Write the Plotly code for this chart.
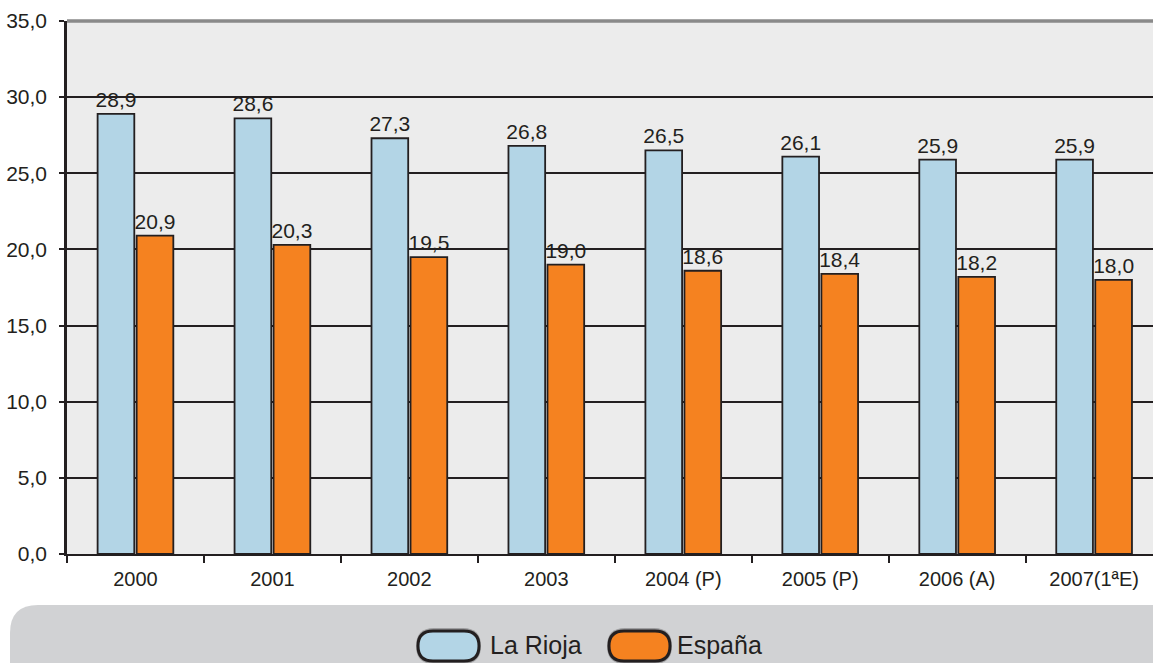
import plotly.graph_objects as go

categories = ["2000", "2001", "2002", "2003", "2004 (P)", "2005 (P)", "2006 (A)", "2007(1ªE)"]
series_names = ["La Rioja", "España"]
la_rioja = [28.9, 28.6, 27.3, 26.8, 26.5, 26.1, 25.9, 25.9]
espana = [20.9, 20.3, 19.5, 19.0, 18.6, 18.4, 18.2, 18.0]
y_ticks = [0, 5, 10, 15, 20, 25, 30, 35]

colors = ["#b3d5e6", "#f58220"]
FONT = "Liberation Sans, Arial, Helvetica, sans-serif"
W, H = 1153, 663
ML, MR, MT, MB = 67, 0, 21, 109
PW, PH = W - ML - MR, H - MT - MB

fig = go.Figure()
for name, vals, col in zip(series_names, [la_rioja, espana], colors):
    fig.add_trace(go.Bar(
        x=categories, y=vals, name=name,
        marker=dict(color=col, line=dict(color="#231f20", width=1.8)),
        text=vals, texttemplate="%{y:.1f}", textposition="outside",
        constraintext="none",
        textfont=dict(family=FONT, size=21, color="#231f20"),
        cliponaxis=False, showlegend=False,
    ))

fig.update_layout(
    width=W, height=H,
    margin=dict(l=ML, r=MR, t=MT, b=MB, pad=0),
    paper_bgcolor="white", plot_bgcolor="#ececec",
    separators=",.",
    barmode="group", bargap=0.43, bargroupgap=0.06,
    font=dict(family=FONT, size=21, color="#231f20"),
    uniformtext=dict(mode=False),
)
fig.update_xaxes(
    range=[-0.5, 7.43], showgrid=False,
    showline=True, linecolor="#231f20", linewidth=2,
    ticks="outside", tickson="boundaries", ticklen=7, tickwidth=2, tickcolor="#231f20",
    ticklabelstandoff=6,
    tickfont=dict(family=FONT, size=20, color="#231f20"),
)
fig.update_yaxes(
    range=[0, 35], tickvals=y_ticks, tickformat=".1f",
    showgrid=True, gridcolor="#231f20", gridwidth=1.5,
    showline=True, linecolor="#231f20", linewidth=2.5,
    ticks="outside", ticklen=5, tickwidth=2, tickcolor="#231f20",
    ticklabelstandoff=8,
    tickfont=dict(family=FONT, size=21, color="#231f20"),
    zeroline=False,
)

# top frame line (gray)
fig.add_shape(type="line", xref="paper", yref="paper", x0=0, x1=1, y0=1, y1=1,
              line=dict(color="#8a8a8a", width=3.5), layer="above")

# legend background: rounded gray box
def px2x(p):
    return (p - ML) / PW

def px2y(p):
    return (H - MB - p) / PH

x0, x1, y0, y1, r = 10, 1200, 605, 720, 28
path = (f"M {px2x(x0)},{px2y(y1)} L {px2x(x0)},{px2y(y0 + r)} "
        f"Q {px2x(x0)},{px2y(y0)} {px2x(x0 + r)},{px2y(y0)} "
        f"L {px2x(x1)},{px2y(y0)} L {px2x(x1)},{px2y(y1)} Z")
fig.add_shape(type="path", xref="paper", yref="paper", path=path,
              fillcolor="#d1d2d4", line=dict(width=0), layer="below")

def pill(xa, xb, ya, yb):
    rr = (yb - ya) / 2
    return (f"M {px2x(xa + rr)},{px2y(ya)} L {px2x(xb - rr)},{px2y(ya)} "
            f"Q {px2x(xb)},{px2y(ya)} {px2x(xb)},{px2y(ya + rr)} "
            f"Q {px2x(xb)},{px2y(yb)} {px2x(xb - rr)},{px2y(yb)} "
            f"L {px2x(xa + rr)},{px2y(yb)} "
            f"Q {px2x(xa)},{px2y(yb)} {px2x(xa)},{px2y(ya + rr)} "
            f"Q {px2x(xa)},{px2y(ya)} {px2x(xa + rr)},{px2y(ya)} Z")

legend_pos = [(418, 479, 488), (609, 670, 675)]
for name, col, (xa, xb, xt) in zip(series_names, colors, legend_pos):
    # soft shadow
    fig.add_shape(type="path", xref="paper", yref="paper", path=pill(xa - 2, xb + 2, 628, 664),
                  fillcolor="rgba(60,60,60,0.35)", line=dict(width=0))
    fig.add_shape(type="path", xref="paper", yref="paper", path=pill(xa, xb, 631, 661),
                  fillcolor=col, line=dict(color="#231f20", width=3))
    fig.add_annotation(xref="paper", yref="paper", x=px2x(xt), y=px2y(645),
                       text=name, showarrow=False, xanchor="left", yanchor="middle",
                       font=dict(family=FONT, size=25, color="#231f20"))

fig.write_html("out.html", config={"displayModeBar": False},
               post_script="document.body.style.margin='0';document.body.style.overflow='hidden';")
